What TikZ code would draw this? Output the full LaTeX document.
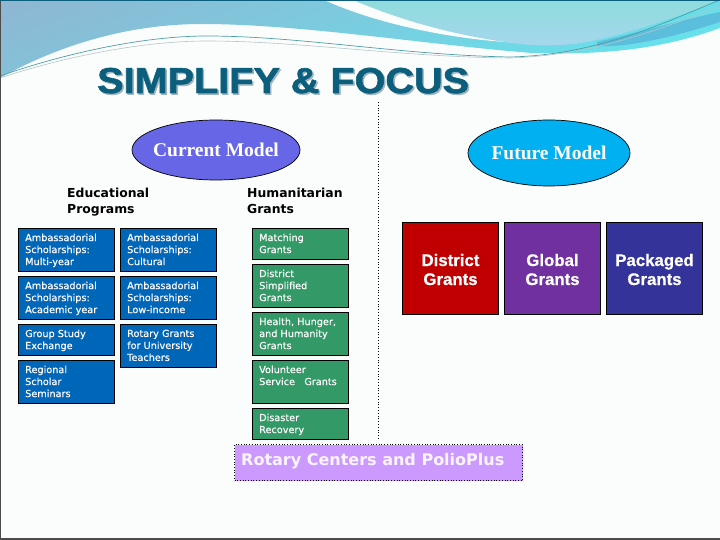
\documentclass[tikz,border=0pt]{standalone}
\usepackage{fontspec}
\usetikzlibrary{fit}
\setmainfont{DejaVu Sans}
\newfontfamily\titlefont{Liberation Sans}[BoldFeatures={FakeBold=1.6}]
\newfontfamily\bigfont{Liberation Sans}[BoldFeatures={FakeBold=0.6}]
\newfontfamily\cellfont{DejaVu Sans}[FakeBold=0.25]
\newfontfamily\modelfont{Liberation Serif}
\definecolor{pagebg}{HTML}{FBFCFC}
\definecolor{bluebox}{HTML}{0066B8}
\definecolor{greenbox}{HTML}{339966}
\definecolor{ellblue}{HTML}{6666E6}
\definecolor{ellcyan}{HTML}{00B0F0}
\definecolor{titleblue}{HTML}{0B5F7D}
\definecolor{titleshade}{HTML}{9FB4C2}
\definecolor{lilac}{HTML}{CC99FF}
\definecolor{waveA}{HTML}{8FB6D2}
\definecolor{waveB}{HTML}{62E6EE}
\definecolor{lightA}{HTML}{8FDCDC}
\definecolor{lightB}{HTML}{A6D6EE}
\definecolor{bandC}{HTML}{5BBEDC}
\definecolor{swirlA}{HTML}{4F9FA8}
\definecolor{swirlB}{HTML}{B5C5C8}
\definecolor{fred}{HTML}{C00000}
\definecolor{fpurple}{HTML}{7030A0}
\definecolor{fnavy}{HTML}{333399}
\tikzset{
  x=1pt,y=-1pt,
  cellbox/.style={draw=black,line width=1pt,inner sep=0pt},
  boxtext/.style={text=white,font=\cellfont\fontsize{9.7}{12}\selectfont,align=left,anchor=north west,inner sep=0pt},
  headtext/.style={text=black,font=\bfseries\fontsize{12.4}{16}\selectfont,align=left,anchor=north west,inner sep=0pt},
  modeltext/.style={text=white,font=\modelfont\bfseries\fontsize{19.5}{22}\selectfont,inner sep=0pt},
  bigtext/.style={text=white,font=\bigfont\bfseries\fontsize{16.8}{19}\selectfont,align=center,inner sep=0pt},
  titletext/.style={anchor=base west,inner sep=0pt,xscale=1.1,font=\titlefont\bfseries\fontsize{36}{40}\selectfont},
}
\newcommand{\rectbox}[6]{% name x1 y1 x2 y2 color
  \node[cellbox,fill=#6,fit={(#2,#3) (#4,#5)}] (#1) {};
}
\begin{document}
\begin{tikzpicture}
\useasboundingbox (0,0) rectangle (720,540);
\fill[pagebg] (0,0) rectangle (720,540);
% left wave
\begin{scope}
\clip (0,78) .. controls (50,50) and (120,24) .. (202,24)
  .. controls (300,24) and (430,45) .. (532,53)
  .. controls (600,55) and (660,50) .. (720,28)
  -- (720,0) -- (324,0) -- (0,0) -- cycle;
\shade[top color=waveA,bottom color=waveB,shading angle=20] (-60,-20) rectangle (780,85);
\end{scope}
% white wedge
\fill[pagebg] (324,0) .. controls (380,25) and (450,38) .. (505,42)
  -- (546,45) -- (353,0) -- cycle;
% light right region
\shade[top color=lightA,bottom color=lightB]
  (353,0) .. controls (400,20) and (450,34) .. (505,42)
  .. controls (530,46) and (550,46) .. (575,44)
  .. controls (630,35) and (680,15) .. (720,0) -- cycle;
% dark band
\fill[bandC] (597,42) .. controls (640,32) and (690,18) .. (720,12)
  -- (720,22) .. controls (680,35) and (630,48) .. (597,46) -- cycle;
% swirl lines
\draw[swirlA,line width=0.7pt] (0,76) .. controls (60,55) and (140,36) .. (207,36)
  .. controls (300,36) and (400,55) .. (510,57)
  .. controls (600,55) and (670,20) .. (720,0);
\draw[swirlB,line width=0.6pt] (0,78) .. controls (60,58) and (140,41) .. (207,41)
  .. controls (300,41) and (400,57) .. (510,58)
  .. controls (600,55) and (670,25) .. (720,6);
% frame
\draw[black!70,line width=1.2pt] (0.5,0) -- (0.5,539) -- (720,539);
\draw[titleblue,line width=1pt] (0,0.5) -- (720,0.5);
% title
\node[titletext,text=titleshade] (titleshadow) at (98.5,94.5) {SIMPLIFY \& FOCUS};
\node[titletext,text=titleblue] (title) at (97,93) {SIMPLIFY \& FOCUS};
% divider
\coordinate (divtop) at (378.5,102);
\coordinate (divbot) at (378.5,439);
\draw[black,line width=0.8pt,dotted] (divtop) -- (divbot);
% ellipses
\path[draw=black,line width=0.7pt,fill=ellblue] (216,150) ellipse [x radius=84,y radius=30];
\path[draw=black,line width=0.7pt,fill=ellcyan] (549,153) ellipse [x radius=81,y radius=33];
\node[modeltext] (curmodel) at (216,150) {Current Model};
\node[modeltext] (futmodel) at (549,153) {Future Model};
% headers
\node[headtext] (edu) at (67,188) {Educational\\Programs};
\node[headtext] (hum) at (247,188) {Humanitarian\\Grants};
% blue cells
\rectbox{a1}{18.5}{228.5}{114.5}{271.5}{bluebox}
\rectbox{a2}{120.5}{228.5}{216.5}{271.5}{bluebox}
\rectbox{a3}{18.5}{276.5}{114.5}{319.5}{bluebox}
\rectbox{a4}{120.5}{276.5}{216.5}{319.5}{bluebox}
\rectbox{a5}{18.5}{324.5}{114.5}{355.5}{bluebox}
\rectbox{a6}{120.5}{324.5}{216.5}{367.5}{bluebox}
\rectbox{a7}{18.5}{360.5}{114.5}{403.5}{bluebox}
\node[boxtext] (ta1) at (25,233.5) {Ambassadorial\\Scholarships:\\Multi-year};
\node[boxtext] (ta2) at (127,233.5) {Ambassadorial\\Scholarships:\\Cultural};
\node[boxtext] (ta3) at (25,281.5) {Ambassadorial\\Scholarships:\\Academic year};
\node[boxtext] (ta4) at (127,281.5) {Ambassadorial\\Scholarships:\\Low-income};
\node[boxtext] (ta5) at (25,329.5) {Group Study\\Exchange};
\node[boxtext] (ta6) at (127,329.5) {Rotary Grants\\for University\\Teachers};
\node[boxtext] (ta7) at (25,365.5) {Regional\\Scholar\\Seminars};
% green cells
\rectbox{g1}{252.5}{228.5}{348.5}{259.5}{greenbox}
\rectbox{g2}{252.5}{264.5}{348.5}{307.5}{greenbox}
\rectbox{g3}{252.5}{312.5}{348.5}{355.5}{greenbox}
\rectbox{g4}{252.5}{360.5}{348.5}{403.5}{greenbox}
\rectbox{g5}{252.5}{408.5}{348.5}{439.5}{greenbox}
\node[boxtext] (tg1) at (259,233.5) {Matching\\Grants};
\node[boxtext] (tg2) at (259,269.5) {District\\Simplified\\Grants};
\node[boxtext] (tg3) at (259,317.5) {Health, Hunger,\\and Humanity\\Grants};
\node[boxtext] (tg4) at (259,365.5) {Volunteer\\Service\ \ \ Grants};
\node[boxtext] (tg5) at (259,413.5) {Disaster\\Recovery};
% future boxes
\rectbox{f1}{402.5}{222.5}{498.5}{314.5}{fred}
\rectbox{f2}{504.5}{222.5}{600.5}{314.5}{fpurple}
\rectbox{f3}{606.5}{222.5}{702.5}{314.5}{fnavy}
\node[bigtext] (tf1) at (450.5,269.5) {District\\Grants};
\node[bigtext] (tf2) at (552.5,269.5) {Global\\Grants};
\node[bigtext] (tf3) at (654.5,269.5) {Packaged\\Grants};
% rotary
\node[draw=black,dotted,line width=0.7pt,fill=lilac,inner sep=0pt,fit={(234.5,444.5) (522.5,480.5)}] (rotbox) {};
\node[text=white!90!lilac,anchor=base west,inner sep=0pt,font=\bfseries\fontsize{16}{19}\selectfont] (rot) at (241,465) {Rotary Centers and PolioPlus};
\end{tikzpicture}
\end{document}
